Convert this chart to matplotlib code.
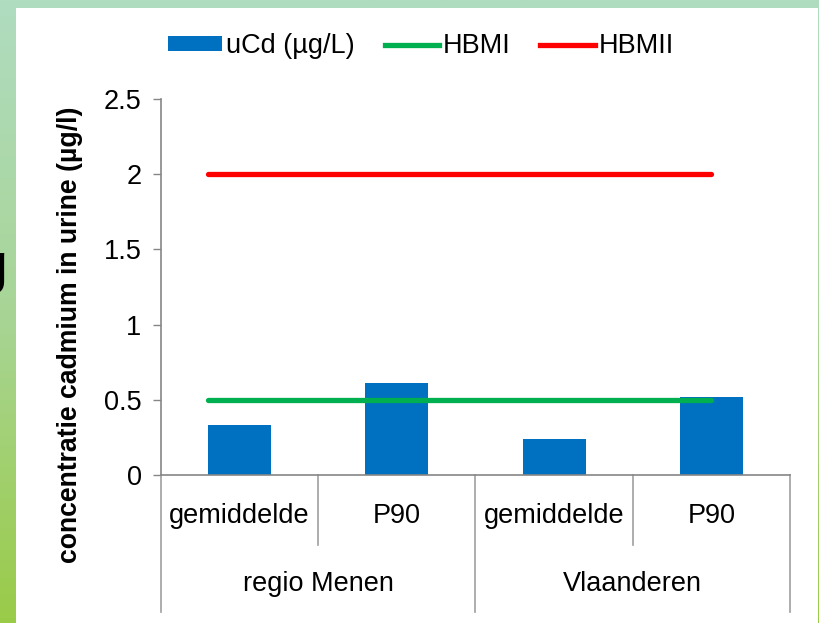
import numpy as np
import matplotlib
matplotlib.use("Agg")
import matplotlib.pyplot as plt
from matplotlib.patches import Rectangle, Patch
from matplotlib.lines import Line2D
from matplotlib.colors import LinearSegmentedColormap

plt.rcParams['font.family'] = ['Liberation Sans', 'DejaVu Sans']

# ---- data ----
sub_labels = ["gemiddelde", "P90", "gemiddelde", "P90"]
group_labels = ["regio Menen", "Vlaanderen"]
ucd = [0.33, 0.61, 0.24, 0.52]
hbmi = [0.5, 0.5]
hbmii = [2.0, 2.0]
yticks = [0, 0.5, 1, 1.5, 2, 2.5]
ytick_labels = ["0", "0.5", "1", "1.5", "2", "2.5"]

FS = 19.5
W, H = 820, 623
fig = plt.figure(figsize=(W / 100, H / 100), dpi=100)

# background gradient (slide)
bg = fig.add_axes([0, 0, 1, 1], zorder=-10)
cmap = LinearSegmentedColormap.from_list("g", ["#b0dcc0", "#a8d596", "#9acb48"])
grad = np.linspace(0, 1, 256).reshape(-1, 1)
bg.imshow(grad, aspect="auto", cmap=cmap, extent=[0, W, H, 0])
bg.add_patch(Rectangle((16, 8), 802, 615, facecolor="white", edgecolor="none"))
bg.set_xlim(0, W)
bg.set_ylim(H, 0)
bg.axis("off")
fig.text(-0.028, 0.57, "g", fontsize=40, color="black", va="center")

ax = fig.add_axes([161 / W, 1 - 475 / H, (790 - 161) / W, (475 - 99) / H])
ax.patch.set_alpha(0)
x = np.arange(len(ucd))
bw = 0.4
ax.bar(x, ucd, width=bw, color="#0070c0", zorder=2)
line_x = [x[0] - bw / 2, x[-1]]
ax.plot(line_x, hbmi, color="#00b050", lw=3.8, solid_capstyle="round", zorder=3)
ax.plot(line_x, hbmii, color="#ff0000", lw=3.8, solid_capstyle="round", zorder=3)

ax.set_xlim(-0.5, len(ucd) - 0.5)
ax.set_ylim(0, 2.5)
ax.set_yticks(yticks)
ax.set_yticklabels(ytick_labels, fontsize=FS)
ax.tick_params(axis="y", direction="out", length=6, width=1, color="#868686", pad=8)
ax.set_xticks([])
for s in ["top", "right"]:
    ax.spines[s].set_visible(False)
for s in ["left", "bottom"]:
    ax.spines[s].set_color("#868686")
    ax.spines[s].set_linewidth(1.2)

ax.set_ylabel("concentratie cadmium in urine (µg/l)", fontsize=FS - 0.3, fontweight="bold")
ax.yaxis.set_label_coords(-0.124, 0.372)

# hierarchical category axis
trans = ax.get_xaxis_transform()
sep_col = "#a0a0a0"
for b in np.arange(len(ucd) + 1) - 0.5:
    idx = int(b + 0.5)
    low = -0.364 if idx % 2 == 0 else -0.186
    ax.plot([b, b], [0, low], color=sep_col, lw=1.2, transform=trans, clip_on=False)
for i, lab in enumerate(sub_labels):
    ax.text(x[i], -0.11, lab, transform=trans, ha="center", va="center", fontsize=FS)
for g, lab in enumerate(group_labels):
    ax.text(2 * g + 0.5, -0.29, lab, transform=trans, ha="center", va="center", fontsize=FS)

handles = [Patch(facecolor="#0070c0"),
           Line2D([], [], color="#00b050", lw=3.8),
           Line2D([], [], color="#ff0000", lw=3.8)]
fig.legend(handles, ["uCd (µg/L)", "HBMI", "HBMII"], loc="center",
           bbox_to_anchor=(421 / W, 1 - 46 / H), ncol=3, frameon=False,
           fontsize=FS, handlelength=2.0, handleheight=0.45, handletextpad=0.15,
           columnspacing=1.1, borderpad=0)

fig.savefig("out.png", dpi=100)
